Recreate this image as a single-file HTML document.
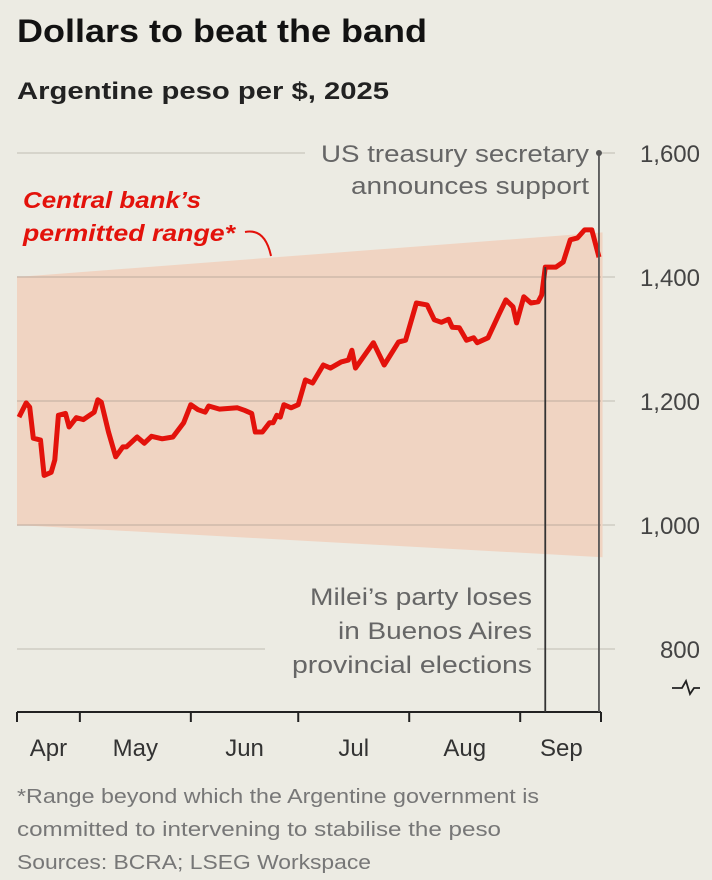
<!DOCTYPE html>
<html><head><meta charset="utf-8"><style>
html,body{margin:0;padding:0;background:#ecebe3;}
svg{display:block;font-family:"Liberation Sans",sans-serif;}
</style></head><body>
<svg id="chart" width="712" height="880" viewBox="0 0 712 880" xmlns="http://www.w3.org/2000/svg">
<rect width="712" height="880" fill="#ecebe3"/>
<text x="17" y="42" font-size="32" font-weight="bold" fill="#121212" textLength="410" lengthAdjust="spacingAndGlyphs">Dollars to beat the band</text>
<text x="17" y="99" font-size="24" font-weight="bold" fill="#222" textLength="372" lengthAdjust="spacingAndGlyphs">Argentine peso per $, 2025</text>
<g id="grid"></g>
<g id="band"></g>
<g id="yl"></g>
<g id="xa"></g>
<path id="line" fill="none" stroke="#e3120b" stroke-width="5" stroke-linejoin="round"/>
<g id="ann"></g>
<text font-size="23" font-weight="bold" font-style="italic" fill="#e3120b"><tspan x="23" y="208" textLength="178" lengthAdjust="spacingAndGlyphs">Central bank’s</tspan><tspan x="23" y="241" textLength="212" lengthAdjust="spacingAndGlyphs">permitted range*</tspan></text>
<path d="M245 232 Q265 228 271 256" fill="none" stroke="#e3120b" stroke-width="2"/>
<text font-size="24" fill="#666" text-anchor="end"><tspan x="589" y="162" textLength="268" lengthAdjust="spacingAndGlyphs">US treasury secretary</tspan><tspan x="589" y="194" textLength="238" lengthAdjust="spacingAndGlyphs">announces support</tspan></text>
<text font-size="24" fill="#666" text-anchor="end"><tspan x="532" y="605" textLength="222" lengthAdjust="spacingAndGlyphs">Milei’s party loses</tspan><tspan x="532" y="639" textLength="194" lengthAdjust="spacingAndGlyphs">in Buenos Aires</tspan><tspan x="532" y="673" textLength="240" lengthAdjust="spacingAndGlyphs">provincial elections</tspan></text>
<path d="M672 688 L682 688 L686 681 L690 694 L694 688 L700 688" fill="none" stroke="#222" stroke-width="1.8"/>
<text font-size="20" fill="#777"><tspan x="17" y="803" textLength="522" lengthAdjust="spacingAndGlyphs">*Range beyond which the Argentine government is</tspan><tspan x="17" y="836" textLength="484" lengthAdjust="spacingAndGlyphs">committed to intervening to stabilise the peso</tspan></text>
<text x="17" y="869" font-size="20" fill="#777" textLength="354" lengthAdjust="spacingAndGlyphs">Sources: BCRA; LSEG Workspace</text>
</svg>
<script>
const days=[0,2,3,4,6,7,9,10,11,13,14,16,18,19,21,22,23,25,27,29,30,33,35,37,40,43,46,48,50,52,53,56,61,63,65,66,68,70,71,72,73,74,76,78,80,82,85,87,90,92,93,94,99,102,106,108,111,114,116,118,120,121,123,125,127,128,131,134,136,138,139,141,143,145,146,147,150,152,154,156,158,160,162];
const values=[1174,1197,1190,1140,1137,1080,1085,1105,1177,1180,1158,1173,1170,1174,1182,1202,1198,1150,1110,1126,1126,1142,1132,1143,1139,1142,1165,1194,1186,1182,1192,1187,1189,1185,1180,1150,1150,1165,1165,1177,1174,1194,1189,1194,1234,1229,1258,1253,1263,1266,1282,1253,1294,1258,1295,1298,1358,1355,1331,1327,1332,1319,1318,1298,1302,1294,1302,1339,1363,1352,1326,1368,1358,1360,1371,1416,1416,1424,1460,1463,1476,1476,1432];
const bandDays=[0,163];
const bandUpper=[1400,1472];
const bandLower=[1000,948];
const yTicks=[800,1000,1200,1400,1600];
const monthLabels=["Apr","May","Jun","Jul","Aug","Sep"];
const monthTickDays=[-1,17,48,78,109,140,163];
const eventDays=[147,162];
const x=d=>19+d*3.58;
const y=v=>277-(v-1400)*0.62;
const NS="http://www.w3.org/2000/svg";
function mk(tag,parent,attrs){const e=document.createElementNS(NS,tag);for(const k in attrs)e.setAttribute(k,attrs[k]);document.getElementById(parent).appendChild(e);return e;}
// band
const bp=mk('path','band',{fill:'#f0d4c2',d:`M17 ${y(bandUpper[0])} L${x(bandDays[1])} ${y(bandUpper[1])} L${x(bandDays[1])} ${y(bandLower[1])} L17 ${y(bandLower[0])} Z`});


// grid + labels
yTicks.forEach(t=>{
  let segs=[[17,615]];
  if(t===1600) segs=[[17,305],[600,615]];
  if(t===800) segs=[[17,265],[537,615]];
  segs.forEach(s=>{const g=mk('line','grid',{x1:s[0],x2:s[1],y1:y(t),y2:y(t),stroke:'#c9c6bd','stroke-width':1.3});
    
    });
  const l=mk('text','yl',{x:700,y:y(t)+9,'font-size':24,fill:'#444','text-anchor':'end'});
  
  
  l.textContent=t.toLocaleString('en-US');
});
// band overlay gridlines inside band darker
yTicks.forEach(t=>{if(t>=1000&&t<=1400){const g=mk('line','band',{x1:17,x2:601,y1:y(t),y2:y(t),stroke:'#c8b3a6','stroke-width':1.3});
  
  }});
// x axis
const ax=mk('line','xa',{x1:17,x2:601,y1:712,y2:712,stroke:'#222','stroke-width':2});


monthTickDays.forEach((d,i)=>{const xx=i===0?17:(i===monthTickDays.length-1?601:x(d));
  const tk=mk('line','xa',{x1:xx,x2:xx,y1:712,y2:722,stroke:'#222','stroke-width':2});
  
  
  if(i<monthLabels.length){const a=i===0?17:x(d);const b=x(monthTickDays[i+1]);
    const l=mk('text','xa',{x:(a+b)/2,y:756,'font-size':24,fill:'#333','text-anchor':'middle'});
    
    
    l.textContent=monthLabels[i];}
});
// line
document.getElementById('line').setAttribute('d',days.map((d,i)=>(i?'L':'M')+x(d).toFixed(1)+' '+y(values[i]).toFixed(1)).join(' '));
// event lines
const e1=mk('line','ann',{x1:x(eventDays[0]),x2:x(eventDays[0]),y1:y(1416),y2:712,stroke:'#333','stroke-width':1.8});


const e2=mk('line','ann',{x1:x(eventDays[1]),x2:x(eventDays[1]),y1:153,y2:712,stroke:'#555','stroke-width':1.8});


const dot=mk('circle','ann',{cx:x(eventDays[1]),cy:153,r:3,fill:'#555'});


</script>
</body></html>
